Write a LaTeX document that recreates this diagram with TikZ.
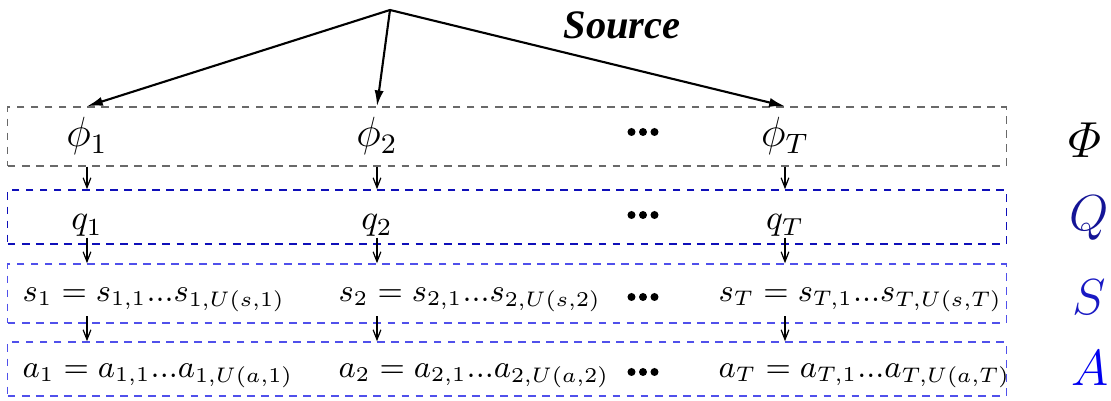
\documentclass[tikz,border=0pt]{standalone}
\usepackage{amsmath}
\usepackage{fontspec}
\usepackage{xcolor}
\usetikzlibrary{arrows.meta}
\usetikzlibrary{math, positioning}
\newfontfamily\srcfont{Liberation Serif}
\definecolor{phigray}{RGB}{105,105,105}
\definecolor{qblue}{RGB}{15,15,185}
\definecolor{sblue}{RGB}{80,80,235}
\definecolor{labq}{RGB}{20,20,150}
\definecolor{labs}{RGB}{25,25,195}
\definecolor{laba}{RGB}{0,0,240}

\tikzset{
  rowbox/.style={draw=#1, dash pattern=on 2.2pt off 1.8pt, line width=0.4pt, minimum width=9.98cm, inner sep=0pt},
  rowtext/.style={anchor=base west, inner sep=0pt, font=\fontsize{9.2}{11}\selectfont},
  fromsrc/.style={-{Latex[length=4.5pt,width=2.6pt]}, line width=0.6pt},
  down/.style={-{Straight Barb[length=2.8pt,width=2.2pt]}, line width=0.35pt},
}

\begin{document}
\begin{tikzpicture}[x=0.01cm, y=-0.01cm]
\tikzmath{
\cA=87; \cB=377; \cT=785; \dd=643;
}
\useasboundingbox (0,0) rectangle (1111,401);

% row frames
\node[rowbox=phigray, minimum height=0.59cm] (Phibox) at (507,136.5) {};
\node[rowbox=qblue, minimum height=0.54cm] (Qbox) at (507,217) {};
\node[rowbox=sblue, minimum height=0.59cm] (Sbox) at (507,293.5) {};
\node[rowbox=sblue, minimum height=0.54cm] (Abox) at (507,369) {};

% source
\coordinate (src) at (390,10);
\node[font=\srcfont\bfseries\itshape\fontsize{11.5}{13}\selectfont] (srclab) at (622,25) {Source};

% phi row
\node[anchor=base, font=\large] (phi1) at (\cA,147) {$\phi_1$};
\node[anchor=base, font=\large] (phi2) at (\cB,147) {$\phi_2$};
\node[anchor=base, font=\large] (phiT) at (\cT,147) {$\phi_T$};

% q row
\node[anchor=base, inner sep=0pt] (q1) at (\cA,230) {$q_1$};
\node[anchor=base, inner sep=0pt] (q2) at (\cB,230) {$q_2$};
\node[anchor=base, inner sep=0pt] (qT) at (\cT,230) {$q_T$};

% s row
\node[rowtext] (s1) at (22,302) {$s_1 = s_{1,1}...s_{1,U(s,1)}$};
\node[rowtext] (s2) at (338,302) {$s_2 = s_{2,1}...s_{2,U(s,2)}$};
\node[rowtext] (sT) at (718,302) {$s_T = s_{T,1}...s_{T,U(s,T)}$};

% a row
\node[rowtext] (a1) at (22,378) {$a_1 = a_{1,1}...a_{1,U(a,1)}$};
\node[rowtext] (a2) at (338,378) {$a_2 = a_{2,1}...a_{2,U(a,2)}$};
\node[rowtext] (aT) at (718,378) {$a_T = a_{T,1}...a_{T,U(a,T)}$};

% dots
\foreach \y in {132,215,297,372}
  \foreach \i in {-1,0,1}
    \fill (\dd+11.5*\i,\y) circle (0.4mm);

% layer names
\node[font=\Large] (Philab) at (1085,140) {$\varPhi$};
\node[font=\Large, text=labq] (Qlab) at (1089,218) {$Q$};
\node[font=\Large, text=labs] (Slab) at (1089,297) {$S$};
\node[font=\Large, text=laba] (Alab) at (1090,368) {$A$};

% connectors
\draw[fromsrc] (src) -- (phi1 |- Phibox.north);
\draw[fromsrc] (src) -- (phi2 |- Phibox.north);
\draw[fromsrc] (src) -- (phiT |- Phibox.north);

\foreach \n in {1,2,T}{
  \draw[down] (phi\n |- Phibox.south) -- (phi\n |- Qbox.north);
  \draw[down] (q\n.south) -- (q\n |- Sbox.north);
  \draw[down] ([yshift=-1pt]q\n |- s\n.south) -- (q\n |- Abox.north);
}
\end{tikzpicture}
\end{document}
